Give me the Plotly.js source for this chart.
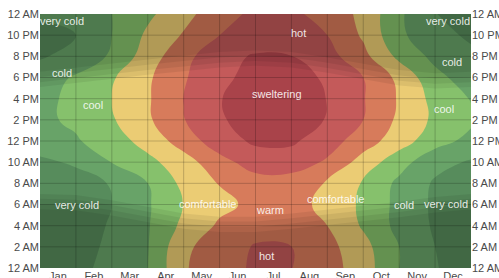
<!DOCTYPE html>
<html><head><meta charset="utf-8">
<script src="https://cdn.plot.ly/plotly-3.0.1.min.js"></script>
<style>html,body{margin:0;padding:0;background:#fff;overflow:hidden}#chart{width:499px;height:278px}</style>
</head><body><div id="chart"></div>
<script>
// ---- data ----
const monthLabels = ['Jan','Feb','Mar','Apr','May','Jun','Jul','Aug','Sep','Oct','Nov','Dec'];
const monthEdges = [0,1,2,3,4,5,6,7,8,9,10,11,12];          // month boundaries (Jan 1 ... Dec 31)
const hours = [0,2,4,6,8,10,12,14,16,18,20,22,24];
const hourLabels = ['12 AM','2 AM','4 AM','6 AM','8 AM','10 AM','12 PM','2 PM','4 PM','6 PM','8 PM','10 PM','12 AM'];
const bandNames = ['very cold','cold','cool','comfortable','warm','hot','sweltering'];
const bandLevels = [45,55,65,75,85,95];   // °F band limits

// temperature (°F) by hour of day (rows) and month boundary (columns)
const temp00 = [38,42.4,47.9,55,74,81.1,86.4,85.2,79.2,69.8,55,45.6,40];
const temp02 = [38,41.9,46.6,54.5,73,79.9,85.8,85.1,78.2,68.3,55,45,40];
const temp04 = [37,41.2,45.8,54.2,67.5,76.5,81.2,80.5,75,63.8,52,43.8,40];
const temp06 = [37,40.9,44.9,53.9,65.3,72.3,77.5,79,72,63.2,52.1,43.3,39];
const temp08 = [39,42.1,45.5,55,67.5,75.5,80.5,80.1,74,63.9,52.8,43.8,40];
const temp10 = [43.5,46,55.3,62.2,70.7,81.4,89.7,90.1,83.6,70.8,59,48,44];
const temp12 = [49,54,60.3,68.8,79.5,90.7,96.6,96.6,89.5,79.8,69.7,59,52];
const temp14 = [53,56.8,64,73.5,84.6,94.1,98.5,98.6,94.6,85,73,63,57];
const temp16 = [53,56.8,65,73.9,85.2,94.6,99.5,99.3,94.8,85.6,74,61.8,54.5];
const temp18 = [50,56.2,63.9,73.5,83.9,93.2,97.5,97.2,94.2,85,72.5,57.9,50];
const temp20 = [44,48.1,56.4,70,81.7,92,95.9,95.2,88.8,77.9,62.5,52.3,47];
const temp22 = [43,45,55,66.8,75.9,85,89,89,85,73.6,57,48.1,43.5];
const temp24 = [46,50.5,55,63,71.7,81.1,87.2,87,81.3,72.5,56.7,45.2,42];

// sunrise / sunset (hours) at each month boundary, and twilight steps (hours)
const sunrise = [7.0,6.9,6.4,5.75,5.15,4.85,4.85,5.15,5.5,5.85,6.25,6.7,7.0];
const sunset  = [17.1,17.5,17.9,18.25,18.6,18.95,19.1,18.95,18.45,17.85,17.25,16.95,17.1];
const twilightSteps = [0,0.45,0.95,1.45];

// ---- styles ----
const bandColors = ['#578c5c','#68a368','#86c16c','#ebcc74','#d77b5b','#c45a5a','#a9434a'];
const FONT = 'Liberation Sans, Arial, Helvetica, sans-serif';
const labelSpots = [
  [0,0.61,23.35],[5,7.2,22.2],[0,11.37,23.3],
  [1,0.61,18.4],[1,11.48,19.5],
  [2,1.48,15.4],[6,6.6,16.4],[2,11.25,15.0],
  [0,1.03,5.95],[3,4.65,6.05],[4,6.4,5.5],[3,8.22,6.5],[1,10.14,6.0],[0,11.3,6.05],
  [5,6.3,1.15]
];

const tempGrid = [temp00,temp02,temp04,temp06,temp08,temp10,temp12,temp14,temp16,temp18,temp20,temp22,temp24];
const step = bandLevels[1]-bandLevels[0];
const zmin = bandLevels[0]-step/2, zmax = bandLevels[bandLevels.length-1]+step/2;

const traces = [{
  type:'contour', x:monthEdges, y:hours, z:tempGrid,
  zauto:false, zmin:zmin, zmax:zmax,
  colorscale: bandColors.map((c,i)=>[i/(bandColors.length-1), c]),
  showscale:false,
  contours:{start:bandLevels[0], end:bandLevels[bandLevels.length-1], size:step, coloring:'fill', showlines:false},
  line:{width:0, smoothing:1.3},
  hoverinfo:'skip'
}];

const last = monthEdges[monthEdges.length-1], first = monthEdges[0];
twilightSteps.forEach(s=>{
  traces.push({type:'scatter', mode:'lines', x:monthEdges.concat([last,first]),
    y:sunrise.map(v=>v-s).concat([hours[0],hours[0]]), fill:'toself',
    fillcolor:'rgba(0,0,0,0.065)', line:{width:0}, hoverinfo:'skip', showlegend:false});
  traces.push({type:'scatter', mode:'lines', x:monthEdges.concat([last,first]),
    y:sunset.map(v=>v+s).concat([hours[hours.length-1],hours[hours.length-1]]), fill:'toself',
    fillcolor:'rgba(0,0,0,0.065)', line:{width:0}, hoverinfo:'skip', showlegend:false});
});
// invisible trace for right axis
traces.push({type:'scatter', mode:'markers', x:[first], y:[hours[0]], yaxis:'y2', marker:{opacity:0}, hoverinfo:'skip', showlegend:false});

const shapes = [];
monthEdges.slice(1,-1).forEach(m=>shapes.push({type:'line', xref:'x', yref:'y', x0:m, x1:m, y0:hours[0], y1:hours[hours.length-1], line:{color:'rgba(0,0,0,0.2)', width:1}, layer:'above'}));
hours.slice(1,-1).forEach(h=>shapes.push({type:'line', xref:'x', yref:'y', x0:first, x1:last, y0:h, y1:h, line:{color:'rgba(0,0,0,0.2)', width:1}, layer:'above'}));

const annotations = labelSpots.map(([b,x,y])=>({x:x, y:y, xref:'x', yref:'y', text:bandNames[b], showarrow:false,
  font:{family:FONT, size:11, color:'rgba(255,255,255,0.88)'}}));

const yax = {range:[hours[0],hours[hours.length-1]], tickvals:hours, ticktext:hourLabels, showgrid:false, zeroline:false,
  ticks:'', showline:false, tickfont:{family:FONT, size:11, color:'#4a4a4a'}, fixedrange:true};

const layout = {
  width:499, height:278, margin:{l:40, r:28, t:14, b:10},
  paper_bgcolor:'#fff', plot_bgcolor:'#fff', showlegend:false,
  font:{family:FONT},
  xaxis:{range:[first,last], tickvals:monthLabels.map((_,i)=>i+0.5), ticktext:monthLabels, showgrid:false, zeroline:false,
    ticks:'', showline:false, tickfont:{family:FONT, size:11, color:'#4a4a4a'}, fixedrange:true},
  yaxis:yax,
  yaxis2:Object.assign({}, yax, {overlaying:'y', side:'right'}),
  shapes:shapes, annotations:annotations
};
Plotly.newPlot('chart', traces, layout, {displayModeBar:false, staticPlot:true});
</script></body></html>
